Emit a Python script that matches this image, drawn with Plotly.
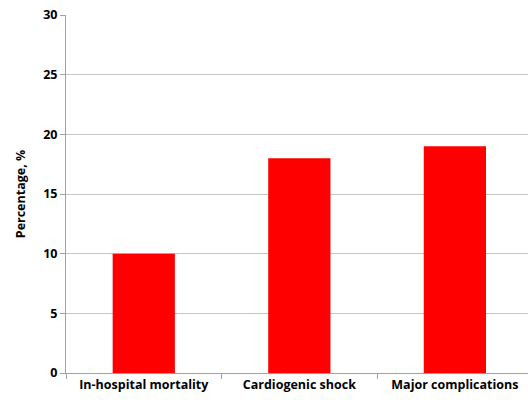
import plotly.graph_objects as go

# dane
kategorie = ["In-hospital mortality", "Cardiogenic shock", "Major complications"]
wartosci = [10, 18, 19]
y_ticki = [0, 5, 10, 15, 20, 25, 30]

czcionka = "Open Sans"

fig = go.Figure()
fig.add_trace(go.Bar(
    x=kategorie, y=wartosci,
    marker=dict(color="#FF0000", line=dict(width=0)),
    width=0.4, showlegend=False
))

fig.update_layout(
    width=528, height=400,
    margin=dict(l=66, r=0, t=15, b=27),
    plot_bgcolor="white", paper_bgcolor="white",
    font=dict(family=czcionka, size=12.5, color="black"),
)

fig.update_xaxes(
    type="category",
    range=[-0.5, 2.47],
    automargin=False,
    tickson="boundaries",
    ticks="outside", ticklen=5, tickcolor="#a0a0a0",
    showline=True, linecolor="#a0a0a0", linewidth=1,
    showgrid=False,
    tickfont=dict(family=czcionka, size=12.5, weight="bold"),
)

fig.update_yaxes(
    range=[0, 30], tickvals=y_ticki,
    automargin=False,
    ticks="outside", ticklen=5, tickcolor="#a0a0a0",
    showline=True, linecolor="#a0a0a0", linewidth=1,
    showgrid=True, gridcolor="#c4c4c4", gridwidth=1,
    zeroline=False,
    tickfont=dict(family=czcionka, size=12.5, weight="bold"),
    title=dict(text="Percentage, %", font=dict(family=czcionka, size=12.5, weight="bold"), standoff=14),
)

# body ma domyślny margines 8px - zerujemy, żeby wykres zaczynał się w rogu
fig.write_html("out.html", config={"displayModeBar": False},
               post_script="document.body.style.margin='0';")
